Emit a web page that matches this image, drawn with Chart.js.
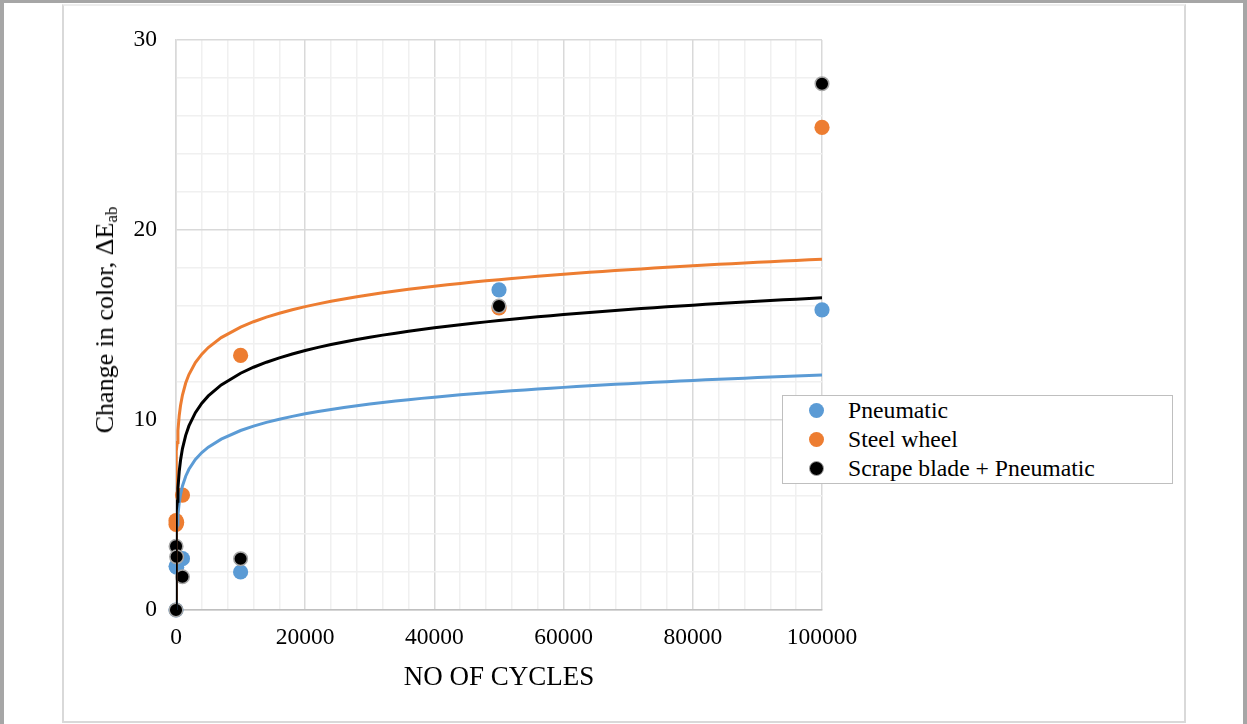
<!DOCTYPE html>
<html>
<head>
<meta charset="utf-8">
<script src="https://cdn.jsdelivr.net/npm/chart.js@4.4.0/dist/chart.umd.min.js"></script>
<style>
  body { margin: 0; background: #fff; }
  #page { position: relative; width: 1247px; height: 724px; overflow: hidden; }
  #outer { position: absolute; left: 0; top: 0; width: 1247px; height: 724px; box-sizing: border-box;
           border-left: 4px solid #a6a6a6; border-top: 3px solid #a6a6a6; border-right: 4px solid #a6a6a6; }
  #frame { position: absolute; left: 62px; top: 4px; width: 1124px; height: 719px; box-sizing: border-box;
           border: 2px solid #d9d9d9; border-top-color: #ededed; }
  #myChart { position: absolute; left: 0; top: 0; }
  #ytitle { position: absolute; left: 106px; top: 320px; transform: translate(-50%, -50%) rotate(-90deg);
            white-space: nowrap; font: 26px 'Liberation Serif'; color: #000; }
  #ytitle sub { font-size: 17px; vertical-align: -4px; }
  #legend { position: absolute; left: 782px; top: 395px; width: 391px; height: 89px; box-sizing: border-box;
            border: 1.5px solid #bfbfbf; background: #fff; }
  .item { position: absolute; left: 0; height: 29px; width: 380px; }
  .dot { position: absolute; left: 26px; top: 7px; width: 15px; height: 15px; border-radius: 50%; box-sizing: border-box; }
  .lbl { position: absolute; left: 65px; top: 1px; line-height: 29px; font: 23.7px 'Liberation Serif'; color: #000; white-space: nowrap; }
</style>
</head>
<body>
<div id="page">
  <div id="outer"></div>
  <div id="frame"></div>
  <canvas id="myChart" width="1247" height="724"></canvas>
  <div id="ytitle">Change in color, ΔE<sub>ab</sub></div>
  <div id="legend"></div>
</div>
<script>
// data
const cycles = [1, 10, 100, 1000, 10000, 50000, 100000];
const pneumatic = [0, 2.3, 2.25, 2.7, 2.0, 16.85, 15.8];
const steelWheel = [4.7, 4.5, 4.6, 6.05, 13.4, 15.9, 25.4];
const scrapeBlade = [0, 3.35, 2.8, 1.75, 2.7, 16.0, 27.7];

const seriesNames = ['Pneumatic', 'Steel wheel', 'Scrape blade + Pneumatic'];
const seriesColors = ['#5b9bd5', '#ed7d31', '#000000'];
const xTickLabels = [0, 20000, 40000, 60000, 80000, 100000];
const yTickLabels = [0, 10, 20, 30];

// x values where the trend curves get sampled
const curveXs = [1, 2, 3, 5, 7, 10, 15, 20, 30, 50, 70, 100, 150, 200, 300, 500, 700, 1000,
  1500, 2000, 3000, 4000, 5000, 7000, 10000];
for (let x = 12000; x <= 100000; x += 2000) curveXs.push(x);

// logarithmic trendline, y = a*ln(x) + b (least squares, like the spreadsheet does)
function logFit(xs, ys) {
  const lx = xs.map(v => Math.log(v));
  const n = xs.length;
  const mx = lx.reduce((s, v) => s + v, 0) / n;
  const my = ys.reduce((s, v) => s + v, 0) / n;
  let sxy = 0, sxx = 0;
  for (let i = 0; i < n; i++) {
    sxy += (lx[i] - mx) * (ys[i] - my);
    sxx += (lx[i] - mx) * (lx[i] - mx);
  }
  const a = sxy / sxx;
  return { a: a, b: my - a * mx };
}

function toPoints(xs, ys) {
  return xs.map((x, i) => ({ x: x, y: ys[i] }));
}

function trendPoints(ys) {
  const f = logFit(cycles, ys);
  return curveXs.map(x => ({ x: x, y: f.a * Math.log(x) + f.b }));
}

const values = [pneumatic, steelWheel, scrapeBlade];

const datasets = [];
// trend lines on top of the markers
[2, 1, 0].forEach((k, i) => {
  datasets.push({
    label: seriesNames[k] + ' trend',
    data: trendPoints(values[k]),
    showLine: true,
    borderColor: seriesColors[k],
    borderWidth: 3,
    pointRadius: 0,
    clip: 0,
    order: i
  });
});
datasets.push({
  label: seriesNames[2], data: toPoints(cycles, scrapeBlade),
  backgroundColor: '#000', borderColor: '#a6a6a6', borderWidth: 1.5,
  pointRadius: 6.8, clip: false, order: 3
});
datasets.push({
  label: seriesNames[1], data: toPoints(cycles, steelWheel),
  backgroundColor: seriesColors[1], borderColor: seriesColors[1], borderWidth: 0,
  pointRadius: 7.6, clip: false, order: 4
});
datasets.push({
  label: seriesNames[0], data: toPoints(cycles, pneumatic),
  backgroundColor: seriesColors[0], borderColor: seriesColors[0], borderWidth: 0,
  pointRadius: 7.6, clip: false, order: 5
});

Chart.defaults.color = '#000';
Chart.defaults.font.family = "'Liberation Serif', 'Times New Roman', serif";

const tickFont = { size: 23.5 };

new Chart(document.getElementById('myChart'), {
  type: 'scatter',
  data: { datasets: datasets },
  options: {
    responsive: false,
    animation: false,
    events: [],
    layout: { padding: { left: 0, top: 40, right: 425, bottom: 0 } },
    plugins: { legend: { display: false }, tooltip: { enabled: false } },
    scales: {
      x: {
        type: 'linear', min: 0, max: 100000,
        ticks: {
          stepSize: 4000, autoSkip: false, maxRotation: 0, font: tickFont, padding: 14,
          callback: v => xTickLabels.includes(v) ? String(v) : ''
        },
        grid: {
          drawTicks: false, lineWidth: 1.5,
          color: c => xTickLabels.includes(c.tick.value) ? '#d9d9d9' : '#f0f0f0'
        },
        border: { color: '#bfbfbf', width: 1.5 },
        title: { display: true, text: 'NO OF CYCLES', font: { size: 27 }, padding: { top: 0, bottom: 30 } },
        afterFit: s => { s.height = 114; }
      },
      y: {
        min: 0, max: 30,
        ticks: {
          stepSize: 2, font: tickFont, padding: 19,
          callback: v => yTickLabels.includes(v) ? String(v) : ''
        },
        grid: {
          drawTicks: false, lineWidth: 1.5,
          color: c => yTickLabels.includes(c.tick.value) ? '#d9d9d9' : '#f0f0f0'
        },
        border: { color: '#d9d9d9', width: 1.5 },
        afterFit: s => { s.width = 176; }
      }
    }
  }
});

// legend (sits over the plot, as in the original)
const legend = document.getElementById('legend');
seriesNames.forEach((name, i) => {
  const item = document.createElement('div');
  item.className = 'item';
  item.style.top = (i * 29) + 'px';
  const dot = document.createElement('div');
  dot.className = 'dot';
  dot.style.background = seriesColors[i];
  if (i === 2) dot.style.border = '1.5px solid #a6a6a6';
  const lbl = document.createElement('div');
  lbl.className = 'lbl';
  lbl.textContent = name;
  item.appendChild(dot);
  item.appendChild(lbl);
  legend.appendChild(item);
});
</script>
</body>
</html>
